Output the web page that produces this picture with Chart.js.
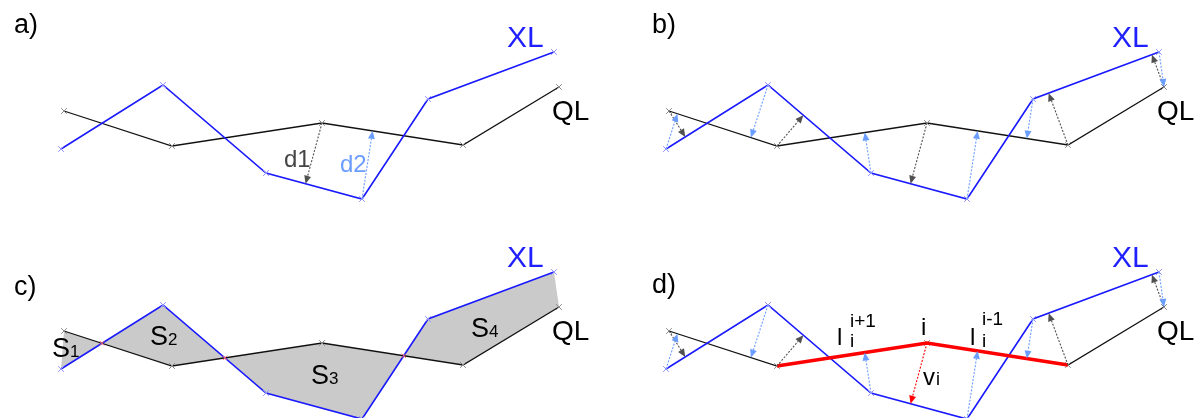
<!DOCTYPE html>
<html>
<head>
<meta charset="utf-8">
<script src="https://cdn.jsdelivr.net/npm/chart.js@4.4.0/dist/chart.umd.min.js"></script>
<style>
  body { margin: 0; background: #fff; width: 1196px; height: 418px; overflow: hidden; position: relative; }
  .panel { position: absolute; width: 591px; height: 209px; }
</style>
</head>
<body>
<div class="panel" style="left:0;top:0"><canvas id="pa" width="591" height="209"></canvas></div>
<div class="panel" style="left:605px;top:0"><canvas id="pb" width="591" height="209"></canvas></div>
<div class="panel" style="left:0;top:220px"><canvas id="pc" width="591" height="209"></canvas></div>
<div class="panel" style="left:605px;top:220px"><canvas id="pd" width="591" height="209"></canvas></div>
<script>
// the two lines, same in every panel (x along the section, y height)
const qlX = [64, 172, 322, 463, 559];
const qlY = [98, 63, 86, 64, 122];
const xlX = [61, 163, 266, 362, 428, 554];
const xlY = [60, 124, 36, 10, 110, 157];

const FONT = '"Liberation Sans", Arial, sans-serif';
const DARK = '#505050';
const LIGHT = '#6b9dff';
const RED = '#ff0000';

function pts(xs, ys) {
    return xs.map((x, i) => ({ x: x, y: ys[i] }));
}

// crossing points of the two polylines (used in panel c)
function crossings(a, b) {
    const out = [];
    for (let i = 0; i < a.length - 1; i++) {
        for (let j = 0; j < b.length - 1; j++) {
            const p = a[i], r = { x: a[i + 1].x - p.x, y: a[i + 1].y - p.y };
            const q = b[j], s = { x: b[j + 1].x - q.x, y: b[j + 1].y - q.y };
            const den = r.x * s.y - r.y * s.x;
            if (den === 0) continue;
            const t = ((q.x - p.x) * s.y - (q.y - p.y) * s.x) / den;
            const u = ((q.x - p.x) * r.y - (q.y - p.y) * r.x) / den;
            if (t >= 0 && t <= 1 && u >= 0 && u <= 1) out.push({ x: p.x + t * r.x, y: p.y + t * r.y });
        }
    }
    return out;
}

// foot of the perpendicular from p onto the segment of line that spans p.x
function foot(p, line) {
    let k = -1;
    for (let i = 0; i < line.length - 1; i++) {
        const lo = Math.min(line[i].x, line[i + 1].x), hi = Math.max(line[i].x, line[i + 1].x);
        if (p.x >= lo && p.x <= hi) { k = i; break; }
    }
    if (k < 0) k = p.x < line[0].x ? 0 : line.length - 2;
    const a = line[k], b = line[k + 1];
    const dx = b.x - a.x, dy = b.y - a.y;
    let t = ((p.x - a.x) * dx + (p.y - a.y) * dy) / (dx * dx + dy * dy);
    t = Math.max(0, Math.min(1, t));
    return { x: a.x + t * dx, y: a.y + t * dy };
}

function drawArrow(ctx, from, to, color) {
    const ang = Math.atan2(to.y - from.y, to.x - from.x);
    const len = 8, half = 3.5;
    const bx = to.x - len * Math.cos(ang), by = to.y - len * Math.sin(ang);
    ctx.save();
    ctx.strokeStyle = color;
    ctx.fillStyle = color;
    ctx.lineWidth = 1.1;
    ctx.setLineDash([2, 1.5]);
    ctx.beginPath();
    ctx.moveTo(from.x, from.y);
    ctx.lineTo(bx, by);
    ctx.stroke();
    ctx.setLineDash([]);
    ctx.beginPath();
    ctx.moveTo(to.x, to.y);
    ctx.lineTo(bx - half * Math.sin(ang), by + half * Math.cos(ang));
    ctx.lineTo(bx + half * Math.sin(ang), by - half * Math.cos(ang));
    ctx.closePath();
    ctx.fill();
    ctx.restore();
}

const allArrows = (redAt) => {
    const list = [];
    qlX.forEach((_, i) => list.push({ src: 'ql', i: i, color: i === redAt ? RED : DARK }));
    xlX.forEach((_, i) => list.push({ src: 'xl', i: i, color: LIGHT }));
    return list;
};

const common = [
    { t: 'XL', x: 507, y: 47, size: 30, color: '#1f1fff' },
    { t: 'QL', x: 552, y: 120, size: 28, color: '#000' }
];

// what goes on top of the two lines in each panel
const panels = {
    pa: {
        arrows: [{ src: 'ql', i: 2, color: DARK }, { src: 'xl', i: 3, color: LIGHT }],
        labels: common.concat([
            { t: 'a)', x: 14, y: 33, size: 27 },
            { t: 'd1', x: 284, y: 167, size: 24, color: '#444' },
            { t: 'd2', x: 340, y: 172, size: 24, color: LIGHT }
        ])
    },
    pb: {
        arrows: allArrows(-1),
        labels: common.concat([{ t: 'b)', x: 47, y: 33, size: 27 }])
    },
    pc: {
        arrows: [],
        labels: common.concat([
            { t: 'c)', x: 14, y: 75, size: 27 },
            { t: 'S', x: 52, y: 137, size: 27 }, { t: '1', x: 70, y: 137, size: 17 },
            { t: 'S', x: 150, y: 125, size: 27 }, { t: '2', x: 168, y: 125, size: 17 },
            { t: 'S', x: 311, y: 164, size: 27 }, { t: '3', x: 329, y: 164, size: 17 },
            { t: 'S', x: 471, y: 117, size: 27 }, { t: '4', x: 489, y: 117, size: 17 }
        ])
    },
    pd: {
        arrows: allArrows(2),
        labels: common.concat([
            { t: 'd)', x: 47, y: 73, size: 27 },
            { t: 'l', x: 232, y: 125, size: 24 }, { t: 'i+1', x: 245, y: 107, size: 19 }, { t: 'i', x: 245, y: 127, size: 19 },
            { t: 'i', x: 316, y: 115, size: 24 },
            { t: 'l', x: 365, y: 125, size: 24 }, { t: 'i-1', x: 377, y: 105, size: 19 }, { t: 'i', x: 377, y: 127, size: 19 },
            { t: 'v', x: 318, y: 165, size: 24 }, { t: 'i', x: 331, y: 165, size: 18 }
        ])
    }
};

const diagramPlugin = {
    id: 'diagram',
    afterDatasetsDraw(chart) {
        const spec = panels[chart.canvas.id];
        const ctx = chart.ctx;
        const ql = chart.getDatasetMeta(0).data.map(p => ({ x: p.x, y: p.y }));
        const xl = chart.getDatasetMeta(1).data.map(p => ({ x: p.x, y: p.y }));
        spec.arrows.forEach(a => {
            const from = a.src === 'ql' ? ql[a.i] : xl[a.i];
            drawArrow(ctx, from, foot(from, a.src === 'ql' ? xl : ql), a.color);
        });
        ctx.save();
        ctx.textBaseline = 'alphabetic';
        spec.labels.forEach(l => {
            ctx.font = l.size + 'px ' + FONT;
            ctx.fillStyle = l.color || '#000';
            ctx.fillText(l.t, l.x, l.y);
        });
        ctx.restore();
    }
};

function makePanel(id) {
    const ql = pts(qlX, qlY);
    const xl = pts(xlX, xlY);
    const datasets = [
        {
            data: ql, showLine: true, borderColor: '#111', borderWidth: 1.3,
            pointStyle: 'crossRot', pointRadius: 4, pointBorderColor: '#8a8a8a', pointBorderWidth: 1, order: 3
        },
        {
            data: xl, showLine: true, borderColor: '#1a1aff', borderWidth: 1.6,
            pointStyle: 'crossRot', pointRadius: 4, pointBorderColor: '#8f8fff', pointBorderWidth: 1, order: 2
        }
    ];
    if (id === 'pc') {
        datasets.push({
            data: ql.concat(xl.slice().reverse()), showLine: true, fill: 'shape',
            backgroundColor: '#cacaca', borderWidth: 0, pointRadius: 0, order: 10
        });
        datasets.push({
            data: crossings(ql, xl), showLine: false, pointStyle: 'crossRot', pointRadius: 3,
            pointBorderColor: '#ff6060', pointBorderWidth: 1, order: 1
        });
    }
    if (id === 'pd') {
        datasets.push({
            data: ql.slice(1, 4), showLine: true, borderColor: RED, borderWidth: 3.5,
            pointRadius: 0, order: 1
        });
    }
    new Chart(document.getElementById(id), {
        type: 'scatter',
        data: { datasets: datasets },
        options: {
            responsive: false,
            animation: false,
            events: [],
            layout: { padding: 0, autoPadding: false },
            elements: { line: { tension: 0 } },
            plugins: { legend: { display: false }, tooltip: { enabled: false } },
            scales: {
                x: { type: 'linear', min: 0, max: 591, display: false },
                y: { type: 'linear', min: 0, max: 209, display: false }
            }
        },
        plugins: [diagramPlugin]
    });
}

['pa', 'pb', 'pc', 'pd'].forEach(makePanel);
</script>
</body>
</html>
